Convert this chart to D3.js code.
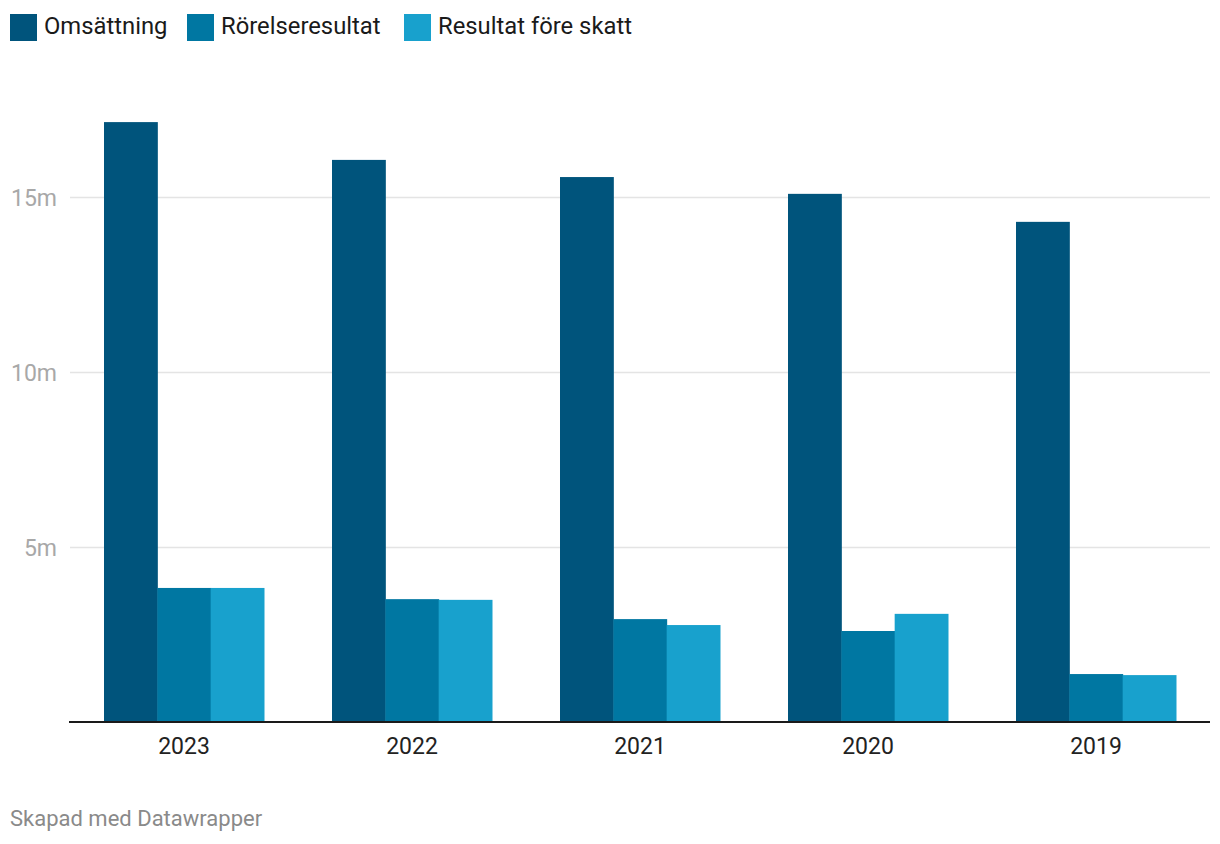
<!DOCTYPE html>
<html><head><meta charset="utf-8">
<script src="https://cdn.jsdelivr.net/npm/d3@7/dist/d3.min.js"></script>
<style>body{margin:0;background:#fff;font-family:Roboto,"Noto Sans",sans-serif;}</style>
</head><body><svg id="c" width="1220" height="844"></svg>
<script>
const years = ["2023","2022","2021","2020","2019"];
const seriesNames = ["Omsättning","Rörelseresultat","Resultat före skatt"];
const omsattning = [17.14, 16.06, 15.57, 15.09, 14.29];
const rorelseresultat = [3.83, 3.51, 2.94, 2.60, 1.37];
const resultatForeSkatt = [3.83, 3.49, 2.77, 3.09, 1.34];
const yTicks = [5, 10, 15];
const colors = ["#00547c", "#0077a2", "#18a1cd"];

const svg = d3.select("#c");
const x = d3.scaleBand().domain(years).range([70, 1210]).paddingInner(68/228).paddingOuter(34/228);
const y = d3.scaleLinear().domain([0, 10]).range([722, 372]);
const sub = d3.scaleBand().domain(seriesNames).range([0, x.bandwidth()]);
const vals = [omsattning, rorelseresultat, resultatForeSkatt];

// gridlines
svg.append("g").selectAll("line").data(yTicks).join("line")
  .attr("x1", 70).attr("x2", 1210)
  .attr("y1", d => Math.round(y(d)) + 0.5).attr("y2", d => Math.round(y(d)) + 0.5)
  .attr("stroke", "#e4e4e4").attr("stroke-width", 1.5);
svg.append("g").selectAll("text").data(yTicks).join("text")
  .attr("x", 57).attr("y", d => y(d) + 8.5).attr("text-anchor", "end")
  .attr("font-size", 23).attr("fill", "#a8a8a8").text(d => d + "m");

// bars
const data = [];
years.forEach((yr, i) => seriesNames.forEach((s, j) => data.push({yr, s, v: vals[j][i], j})));
svg.append("g").selectAll("rect").data(data).join("rect")
  .attr("x", d => x(d.yr) + sub(d.s))
  .attr("width", sub.bandwidth() + 0.5)
  .attr("y", d => y(d.v)).attr("height", d => y(0) - y(d.v))
  .attr("fill", d => colors[d.j]);

// baseline
svg.append("line").attr("x1", 69).attr("x2", 1210).attr("y1", 722).attr("y2", 722)
  .attr("stroke", "#1a1a1a").attr("stroke-width", 2);

// x labels
svg.append("g").selectAll("text").data(years).join("text")
  .attr("x", d => x(d) + x.bandwidth()/2).attr("y", 753.5).attr("text-anchor", "middle")
  .attr("font-size", 23).attr("fill", "#222").text(d => d);

// legend
const legX = [10, 187, 404];
const lg = svg.append("g").selectAll("g").data(seriesNames).join("g")
  .attr("transform", (d, i) => `translate(${legX[i]},0)`);
lg.append("rect").attr("x", 0).attr("y", 14).attr("width", 27).attr("height", 27)
  .attr("fill", (d, i) => colors[i]);
lg.append("text").attr("x", 34).attr("y", 33.5).attr("font-size", 23.8).attr("fill", "#1a1a1a").text(d => d);

// footer
svg.append("text").attr("x", 10).attr("y", 826).attr("font-size", 22).attr("fill", "#8a8a8a")
  .text("Skapad med Datawrapper");
</script></body></html>
